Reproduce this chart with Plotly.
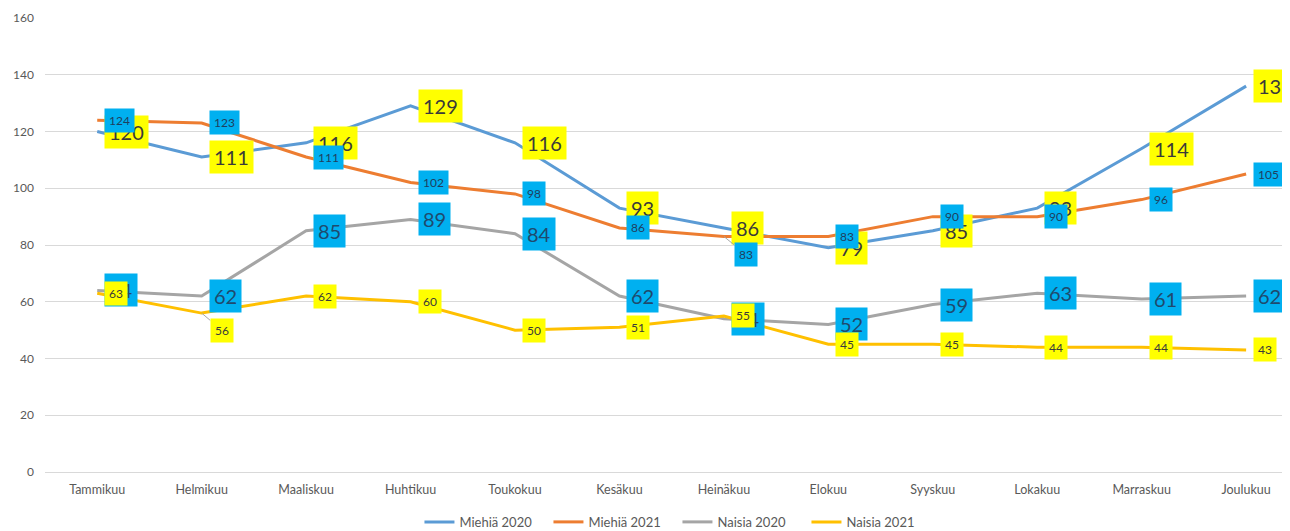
import plotly.graph_objects as go

months = ["Tammikuu", "Helmikuu", "Maaliskuu", "Huhtikuu", "Toukokuu", "Kesäkuu",
          "Heinäkuu", "Elokuu", "Syyskuu", "Lokakuu", "Marraskuu", "Joulukuu"]

miehia_2020 = [120, 111, 116, 129, 116, 93, 86, 79, 85, 93, 114, 136]
miehia_2021 = [124, 123, 111, 102, 98, 86, 83, 83, 90, 90, 96, 105]
naisia_2020 = [64, 62, 85, 89, 84, 62, 54, 52, 59, 63, 61, 62]
naisia_2021 = [63, 56, 62, 60, 50, 51, 55, 45, 45, 44, 44, 43]

series_names = ["Miehiä 2020", "Miehiä 2021", "Naisia 2020", "Naisia 2021"]
series_values = [miehia_2020, miehia_2021, naisia_2020, naisia_2021]
line_colors = ["#5B9BD5", "#ED7D31", "#A5A5A5", "#FFC000"]
# label style per series: (background, font size, text colour, padding)
label_styles = [("#FFFF00", 20, "#3a3a3a", 4),
                ("#00B0F0", 12, "#1f3f5f", 4),
                ("#00B0F0", 20, "#1f4a6e", 4),
                ("#FFFF00", 12, "#3a3a3a", 4)]
# labels moved away from their point (with a leader line): (series, month) -> pixel offset
moved_labels = {(1, 6): (22, 18), (3, 1): (20, 17)}

FONT = "Lato, 'Open Sans', sans-serif"

fig = go.Figure()
for name, vals, col in zip(series_names, series_values, line_colors):
    fig.add_trace(go.Scatter(x=months, y=vals, name=name, mode="lines",
                             line=dict(color=col, width=3)))

annotations = []
for si, vals in enumerate(series_values):
    bg, fs, tc, pad = label_styles[si]
    for mi, v in enumerate(vals):
        if (si, mi) in moved_labels:
            ax, ay = moved_labels[(si, mi)]
            annotations.append(dict(x=months[mi], y=v, xref="x", yref="y", text=str(v),
                                    showarrow=True, arrowhead=0, arrowwidth=1,
                                    arrowcolor="#A6A6A6", ax=ax, ay=ay, standoff=0,
                                    bgcolor=bg, borderpad=pad,
                                    font=dict(size=fs, color=tc, family=FONT)))
        else:
            annotations.append(dict(x=months[mi], y=v, xref="x", yref="y", text=str(v),
                                    showarrow=False, xanchor="left", yanchor="middle",
                                    xshift=7, bgcolor=bg, borderpad=pad,
                                    font=dict(size=fs, color=tc, family=FONT)))

fig.update_layout(
    width=1282, height=523,
    margin=dict(l=37, r=0, t=10, b=59, autoexpand=False),
    paper_bgcolor="white", plot_bgcolor="white",
    font=dict(family=FONT, color="#595959", size=12),
    showlegend=True,
    legend=dict(orientation="h", x=0.508, xanchor="center", y=-0.11, yanchor="middle",
                font=dict(size=13, color="#595959"), itemwidth=30,
                entrywidth=84, entrywidthmode="pixels",
                bgcolor="rgba(0,0,0,0)"),
    annotations=annotations,
    xaxis=dict(type="category", range=[-0.5, 11.42], showgrid=False, showline=False,
               ticks="", tickfont=dict(size=12.5, color="#595959"), fixedrange=True,
               ticklabelstandoff=8),
    yaxis=dict(range=[0, 160], dtick=20, showgrid=True, gridcolor="#D9D9D9", gridwidth=1,
               zeroline=True, zerolinecolor="#D9D9D9", zerolinewidth=1, showline=False,
               ticks="", tickfont=dict(size=12, color="#595959"), ticklabelstandoff=10),
)

fig.write_html("out.html")
